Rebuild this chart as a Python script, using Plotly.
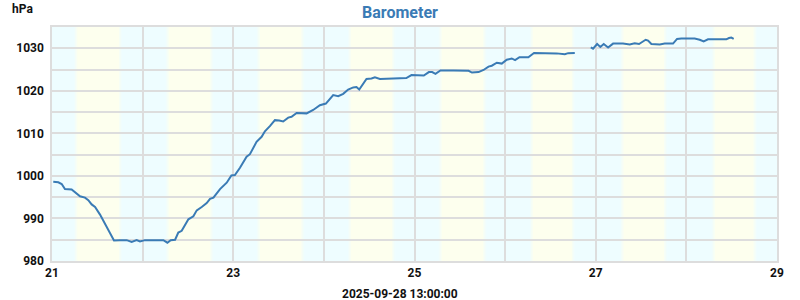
import plotly.graph_objects as go
import pandas as pd

# ---- data ----
times = [
    "2025-09-21 00:20", "2025-09-21 01:40", "2025-09-21 02:34", "2025-09-21 03:26", "2025-09-21 05:12",
    "2025-09-21 06:06", "2025-09-21 07:25", "2025-09-21 08:44", "2025-09-21 09:37", "2025-09-21 10:30",
    "2025-09-21 11:24", "2025-09-21 12:43", "2025-09-21 14:30", "2025-09-21 16:25", "2025-09-21 18:00",
    "2025-09-21 19:47", "2025-09-21 21:06", "2025-09-21 22:25", "2025-09-21 23:18", "2025-09-22 00:37",
    "2025-09-22 01:58", "2025-09-22 05:30", "2025-09-22 06:33", "2025-09-22 07:26", "2025-09-22 08:36",
    "2025-09-22 09:27", "2025-09-22 10:21", "2025-09-22 12:07", "2025-09-22 13:26", "2025-09-22 14:20",
    "2025-09-22 15:39", "2025-09-22 16:58", "2025-09-22 17:51", "2025-09-22 18:45", "2025-09-22 20:30",
    "2025-09-22 22:16", "2025-09-22 23:31", "2025-09-23 00:26", "2025-09-23 01:47", "2025-09-23 03:32",
    "2025-09-23 04:25", "2025-09-23 06:10", "2025-09-23 07:31", "2025-09-23 08:23", "2025-09-23 09:42",
    "2025-09-23 11:02", "2025-09-23 12:10", "2025-09-23 13:13", "2025-09-23 14:34", "2025-09-23 15:26",
    "2025-09-23 16:47", "2025-09-23 18:06", "2025-09-23 19:25", "2025-09-23 21:10", "2025-09-23 22:57",
    "2025-09-24 00:32", "2025-09-24 01:35", "2025-09-24 02:28", "2025-09-24 03:48", "2025-09-24 05:07",
    "2025-09-24 06:26", "2025-09-24 07:47", "2025-09-24 08:38", "2025-09-24 09:22", "2025-09-24 11:17",
    "2025-09-24 12:37", "2025-09-24 13:31", "2025-09-24 14:50", "2025-09-24 18:22", "2025-09-24 21:50",
    "2025-09-24 23:12", "2025-09-25 01:19", "2025-09-25 02:28", "2025-09-25 03:48", "2025-09-25 04:41",
    "2025-09-25 05:33", "2025-09-25 06:52", "2025-09-25 10:22", "2025-09-25 14:20", "2025-09-25 15:13",
    "2025-09-25 16:58", "2025-09-25 18:17", "2025-09-25 19:36", "2025-09-25 20:28", "2025-09-25 21:48",
    "2025-09-25 23:07", "2025-09-26 00:26", "2025-09-26 01:45", "2025-09-26 02:38", "2025-09-26 03:48",
    "2025-09-26 06:09", "2025-09-26 07:39", "2025-09-26 10:06", "2025-09-26 13:38", "2025-09-26 15:49",
    "2025-09-26 16:42", "2025-09-26 18:27", "2025-09-26 20:30", "2025-09-26 22:41", "2025-09-26 23:17",
    "2025-09-27 00:22", "2025-09-27 01:13", "2025-09-27 02:07", "2025-09-27 03:16", "2025-09-27 04:35",
    "2025-09-27 07:13", "2025-09-27 09:00", "2025-09-27 10:19", "2025-09-27 11:28", "2025-09-27 13:13",
    "2025-09-27 13:51", "2025-09-27 14:44", "2025-09-27 16:57", "2025-09-27 18:16", "2025-09-27 20:28",
    "2025-09-27 21:32", "2025-09-27 22:41", "2025-09-28 02:12", "2025-09-28 03:32", "2025-09-28 04:35",
    "2025-09-28 05:44", "2025-09-28 10:35", "2025-09-28 11:17", "2025-09-28 11:54", "2025-09-28 12:32",
]
pressure_hpa = [
    998.6, 998.5, 998.1, 996.9, 996.8,
    996.1, 995.2, 994.9, 994.3, 993.3,
    992.7, 990.9, 987.8, 984.8, 984.9,
    984.9, 984.5, 984.9, 984.6, 984.9,
    984.9, 984.9, 984.3, 984.9, 985.0,
    986.7, 987.1, 989.8, 990.5, 991.9,
    992.7, 993.6, 994.6, 994.9, 996.9,
    998.4, 1000.1, 1000.2, 1001.9, 1004.5,
    1005.1, 1008.0, 1009.2, 1010.5, 1011.7,
    1013.1, 1013.0, 1012.8, 1013.7, 1013.9,
    1014.8, 1014.8, 1014.7, 1015.5, 1016.6,
    1017.0, 1018.0, 1019.0, 1018.75, 1019.3,
    1020.3, 1020.8, 1020.9, 1020.3, 1022.8,
    1022.9, 1023.2, 1022.8, 1022.9, 1023.0,
    1023.7, 1023.7, 1023.6, 1024.4, 1024.4,
    1024.0, 1024.8, 1024.75, 1024.7, 1024.3,
    1024.4, 1024.9, 1025.7, 1025.9, 1026.6,
    1026.4, 1027.3, 1027.6, 1027.2, 1027.9,
    1027.9, 1028.9, 1028.9, 1028.8, 1028.6,
    1028.85, 1028.9, None, 1030.2, 1029.9,
    1031.0, 1030.3, 1031.0, 1030.2, 1031.1,
    1031.1, 1030.9, 1031.2, 1031.0, 1032.0,
    1031.8, 1031.0, 1030.9, 1031.1, 1031.1,
    1032.2, 1032.3, 1032.3, 1032.0, 1031.6,
    1032.1, 1032.1, 1032.4, 1032.5, 1032.2,
]
days = ["2025-09-21", "2025-09-22", "2025-09-23", "2025-09-24",
        "2025-09-25", "2025-09-26", "2025-09-27", "2025-09-28"]
sunrise = ["06:15", "06:28", "06:35", "06:45", "06:45", "06:55", "06:55", "07:05"]
sunset = ["18:10", "18:22", "18:30", "18:30", "18:40", "18:05", "18:30", "18:15"]

title_text = "Barometer"
unit_text = "hPa"
stamp_text = "2025-09-28 13:00:00"

# ---- style ----
NIGHT = (238, 253, 255)
DAY = (253, 255, 238)
GRID = "#dddddd"
LINE = "#3a7bb5"


def mix(a, b, t):
    return "rgb(%d,%d,%d)" % tuple(round(a[i] + (b[i] - a[i]) * t) for i in range(3))


shapes = []
edge = pd.Timedelta(minutes=24)
steps = 5
for d, r, s in zip(days, sunrise, sunset):
    tr = pd.Timestamp(f"{d} {r}")
    ts = pd.Timestamp(f"{d} {s}")
    # core daylight
    shapes.append(dict(type="rect", xref="x", yref="paper", x0=tr + edge, x1=ts - edge,
                       y0=0, y1=1, fillcolor=mix(NIGHT, DAY, 1), line_width=0, layer="below"))
    for k in range(steps):
        t = (k + 0.5) / steps
        w = 2 * edge / steps
        shapes.append(dict(type="rect", xref="x", yref="paper",
                           x0=tr - edge + k * w, x1=tr - edge + (k + 1) * w,
                           y0=0, y1=1, fillcolor=mix(NIGHT, DAY, t), line_width=0, layer="below"))
        shapes.append(dict(type="rect", xref="x", yref="paper",
                           x0=ts - edge + k * w, x1=ts - edge + (k + 1) * w,
                           y0=0, y1=1, fillcolor=mix(DAY, NIGHT, t), line_width=0, layer="below"))

fig = go.Figure()
fig.add_trace(go.Scatter(
    x=pd.to_datetime(times), y=pressure_hpa, mode="lines",
    line=dict(color=LINE, width=2), connectgaps=False, hoverinfo="x+y",
))

tickfont = dict(family="Roboto", size=12, color="#111111", weight="bold")

fig.update_layout(
    width=800, height=300,
    margin=dict(l=52, r=23, t=27, b=39),
    paper_bgcolor="white",
    plot_bgcolor=mix(NIGHT, NIGHT, 0),
    showlegend=False,
    shapes=shapes,
    title=dict(text=title_text, x=0.5, xref="container", xanchor="center",
               y=1 - 12 / 300, yref="container", yanchor="middle",
               font=dict(family="Roboto", size=16, color=LINE, weight="bold")),
    xaxis=dict(
        type="date", range=["2025-09-21", "2025-09-29"],
        tick0="2025-09-21", dtick=2 * 86400000, tickformat="%-d",
        showgrid=True, gridcolor=GRID, gridwidth=1.5,
        minor=dict(dtick=86400000, tick0="2025-09-21", showgrid=True, gridcolor=GRID, gridwidth=1.5),
        showline=True, linecolor=GRID, linewidth=1.5, mirror=True,
        ticks="", tickfont=tickfont, zeroline=False,
    ),
    yaxis=dict(
        range=[980, 1035], tick0=980, dtick=10,
        showgrid=True, gridcolor=GRID, gridwidth=1.5,
        minor=dict(dtick=5, tick0=980, showgrid=True, gridcolor=GRID, gridwidth=1.5),
        showline=True, linecolor=GRID, linewidth=1.5, mirror=True,
        ticks="", tickfont=tickfont, zeroline=False, ticklabelstandoff=4,
    ),
    annotations=[
        dict(text=unit_text, xref="paper", yref="paper", x=(10 - 52) / 725, y=(261 - 9) / 234,
             xanchor="left", yanchor="middle", showarrow=False,
             font=dict(family="Roboto", size=12, color="#111111", weight="bold")),
        dict(text=stamp_text, xref="paper", yref="paper", x=(400 - 52) / 725, y=(261 - 294) / 234,
             xanchor="center", yanchor="middle", showarrow=False,
             font=dict(family="Roboto", size=12, color="#111111", weight="bold")),
    ],
)

fig.write_html("out.html")
